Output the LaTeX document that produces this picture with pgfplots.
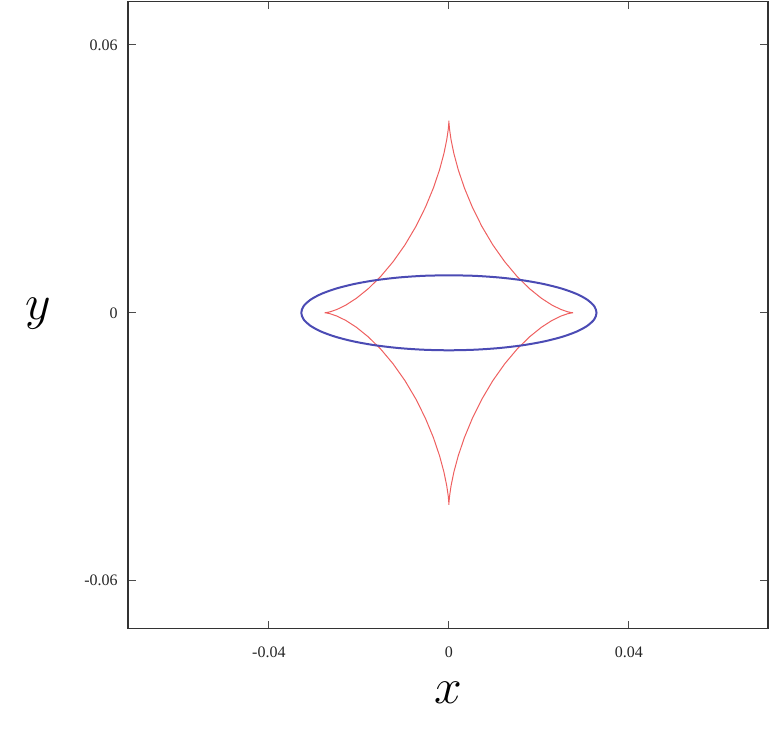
\documentclass[border=0pt]{standalone}
\usepackage{fontspec}
\setmainfont{Liberation Serif}
\usepackage{pgfplots}
\pgfplotsset{compat=1.18}
\definecolor{ellblue}{RGB}{75,75,180}
\definecolor{caured}{RGB}{238,95,95}
\begin{document}
\begin{tikzpicture}
\begin{axis}[
  scale only axis, width=320pt, height=313.5pt,
  xmin=-0.0713, xmax=0.0709, ymin=-0.0707, ymax=0.0697,
  scaled ticks=false,
  xtick={-0.04,0,0.04}, xticklabels={-0.04,0,0.04},
  ytick={-0.06,0,0.06}, yticklabels={-0.06,0,0.06},
  tick align=inside, major tick length=4pt,
  tick style={black!70, line width=0.5pt},
  axis line style={black!80, line width=0.9pt},
  ticklabel style={font=\fontsize{8}{9}\selectfont, text=black!85},
  xticklabel style={anchor=north, inner sep=0pt, yshift=-9pt},
  yticklabel style={anchor=east, inner sep=0pt, xshift=-5pt},
  xlabel={$x$}, ylabel={$y$},
  label style={font=\fontsize{38}{40}\selectfont},
  xlabel style={at={(rel axis cs:0.5,0)}, anchor=mid, yshift=-35pt},
  ylabel style={at={(rel axis cs:0,0.5)}, anchor=mid, rotate=-90, xshift=-45pt},
  clip=true,
]
% red caustic
\addplot[caured, line width=0.5pt] coordinates {
(0.02760,0) (0.02729,0.0000285) (0.02636,0.000225) (0.02487,0.000746) (0.02290,0.00172)
(0.02055,0.00325) (0.01793,0.00538) (0.01517,0.00811) (0.01241,0.01142) (0.00976,0.01520)
(0.00733,0.01933) (0.00521,0.02364) (0.00345,0.02793) (0.00208,0.03201) (0.00110,0.03568)
(0.000479,0.03875) (0.000144,0.04107) (0.0000183,0.04251) (0,0.04300)
(-0.0000183,0.04251) (-0.000144,0.04107) (-0.000479,0.03875) (-0.00110,0.03568) (-0.00208,0.03201)
(-0.00345,0.02793) (-0.00521,0.02364) (-0.00733,0.01933) (-0.00976,0.01520) (-0.01241,0.01142)
(-0.01517,0.00811) (-0.01793,0.00538) (-0.02055,0.00325) (-0.02290,0.00172) (-0.02487,0.000746)
(-0.02636,0.000225) (-0.02729,0.0000285) (-0.02760,0)
(-0.02729,-0.0000285) (-0.02636,-0.000225) (-0.02487,-0.000746) (-0.02290,-0.00172) (-0.02055,-0.00325)
(-0.01793,-0.00538) (-0.01517,-0.00811) (-0.01241,-0.01142) (-0.00976,-0.01520) (-0.00733,-0.01933)
(-0.00521,-0.02364) (-0.00345,-0.02793) (-0.00208,-0.03201) (-0.00110,-0.03568) (-0.000479,-0.03875)
(-0.000144,-0.04107) (-0.0000183,-0.04251) (0,-0.04300)
(0.0000183,-0.04251) (0.000144,-0.04107) (0.000479,-0.03875) (0.00110,-0.03568) (0.00208,-0.03201)
(0.00345,-0.02793) (0.00521,-0.02364) (0.00733,-0.01933) (0.00976,-0.01520) (0.01241,-0.01142)
(0.01517,-0.00811) (0.01793,-0.00538) (0.02055,-0.00325) (0.02290,-0.00172) (0.02487,-0.000746)
(0.02636,-0.000225) (0.02729,-0.0000285) (0.02760,0)
};
% blue ellipse
\addplot[ellblue, line width=1pt, smooth] coordinates {
(0,0.0084) (-0.00569,0.008272) (-0.01122,0.007893) (-0.01640,0.007274) (-0.02108,0.006434)
(-0.02512,0.0054) (-0.02841,0.0042) (-0.03082,0.002873) (-0.03230,0.001458) (-0.03280,0)
(-0.03230,-0.001458) (-0.03082,-0.002873) (-0.02841,-0.0042) (-0.02512,-0.0054) (-0.02108,-0.006434)
(-0.01640,-0.007274) (-0.01122,-0.007893) (-0.00569,-0.008272) (0,-0.0084)
(0.00569,-0.008272) (0.01122,-0.007893) (0.01640,-0.007274) (0.02108,-0.006434) (0.02512,-0.0054)
(0.02841,-0.0042) (0.03082,-0.002873) (0.03230,-0.001458) (0.03280,0)
(0.03230,0.001458) (0.03082,0.002873) (0.02841,0.0042) (0.02512,0.0054) (0.02108,0.006434)
(0.01640,0.007274) (0.01122,0.007893) (0.00569,0.008272) (0,0.0084)
};
\end{axis}
\path ([xshift=-64pt,yshift=-52pt]current axis.south west) rectangle ([xshift=1.5pt,yshift=0.75pt]current axis.north east);
\end{tikzpicture}
\end{document}
